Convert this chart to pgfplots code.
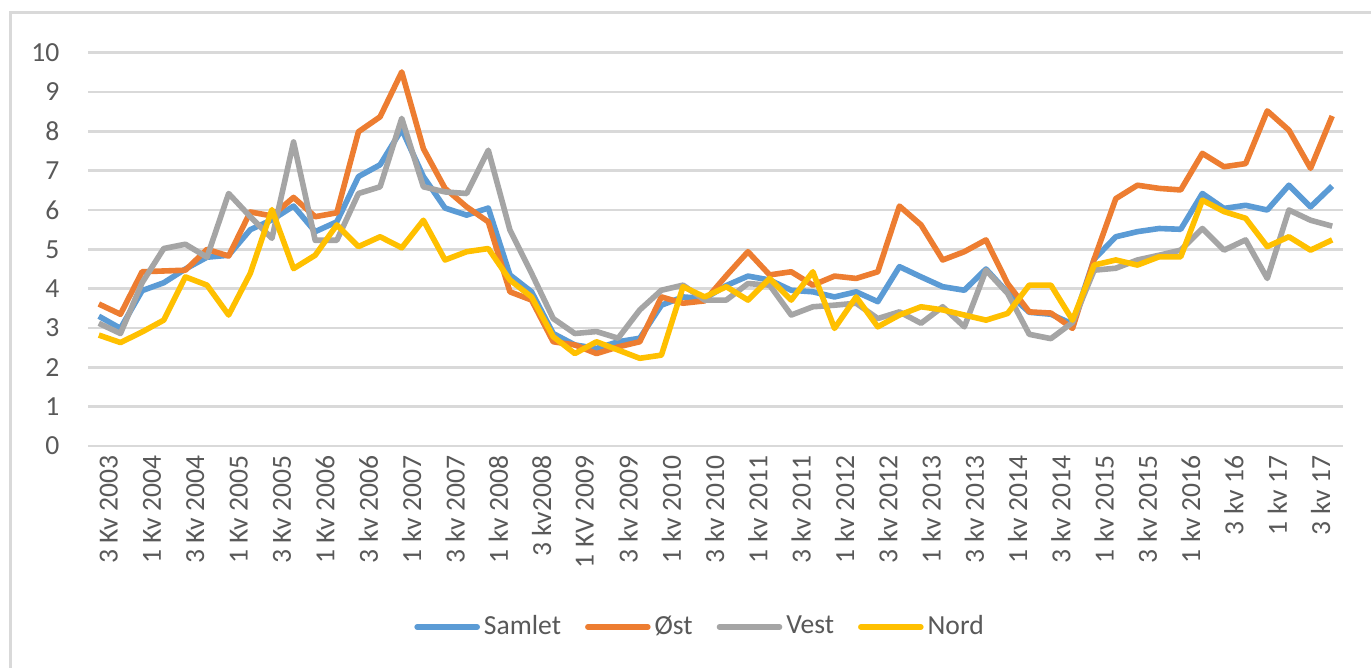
\documentclass[border=0pt]{standalone}
\usepackage{fontspec}
\setmainfont{Carlito}
\usepackage{pgfplots}
\usepackage{pgfplotstable}
\pgfplotsset{compat=1.18}
\definecolor{cblue}{HTML}{5B9BD5}
\definecolor{corange}{HTML}{ED7D31}
\definecolor{cgray}{HTML}{A5A5A5}
\definecolor{cyellow}{HTML}{FFC000}
\definecolor{cgrid}{HTML}{D9D9D9}
\definecolor{ctxt}{HTML}{595959}

\pgfplotstableread{
i samlet ost vest nord
0 3.30 3.61 3.12 2.82
1 2.99 3.35 2.86 2.63
2 3.95 4.43 4.15 2.90
3 4.15 4.45 5.02 3.20
4 4.50 4.47 5.13 4.30
5 4.80 5.00 4.80 4.09
6 4.85 4.83 6.42 3.33
7 5.50 5.95 5.83 4.39
8 5.75 5.85 5.28 6.01
9 6.10 6.32 7.73 4.51
10 5.45 5.83 5.23 4.85
11 5.70 5.93 5.23 5.62
12 6.85 7.99 6.42 5.07
13 7.15 8.37 6.59 5.32
14 8.05 9.51 8.33 5.04
15 6.85 7.56 6.59 5.74
16 6.05 6.55 6.46 4.73
17 5.87 6.08 6.42 4.94
18 6.05 5.70 7.52 5.02
19 4.35 3.92 5.49 4.22
20 3.92 3.71 4.39 3.79
21 2.86 2.65 3.24 2.78
22 2.57 2.57 2.86 2.35
23 2.48 2.35 2.91 2.65
24 2.65 2.52 2.74 2.44
25 2.74 2.65 3.46 2.23
26 3.58 3.79 3.96 2.31
27 3.79 3.63 4.09 4.05
28 3.75 3.69 3.71 3.79
29 4.08 4.33 3.71 4.05
30 4.32 4.94 4.13 3.71
31 4.22 4.35 4.09 4.26
32 3.96 4.43 3.33 3.71
33 3.92 4.09 3.54 4.43
34 3.79 4.32 3.58 2.99
35 3.92 4.26 3.63 3.79
36 3.67 4.43 3.24 3.03
37 4.56 6.10 3.41 3.33
38 4.30 5.62 3.12 3.54
39 4.05 4.73 3.54 3.46
40 3.96 4.94 3.03 3.33
41 4.50 5.24 4.47 3.20
42 3.90 4.13 3.88 3.37
43 3.40 3.41 2.84 4.09
44 3.35 3.38 2.73 4.09
45 3.10 2.99 3.14 3.20
46 4.75 4.75 4.47 4.60
47 5.32 6.29 4.52 4.73
48 5.45 6.63 4.73 4.60
49 5.53 6.55 4.85 4.81
50 5.51 6.51 4.98 4.81
51 6.42 7.44 5.53 6.25
52 6.04 7.10 4.98 5.96
53 6.12 7.18 5.24 5.79
54 6.00 8.52 4.26 5.07
55 6.63 8.03 6.00 5.32
56 6.08 7.06 5.74 4.98
57 6.61 8.39 5.59 5.24
}\datatable

\begin{document}
\fontsize{13.8}{16.5}\selectfont
\begin{tikzpicture}
\useasboundingbox (0,0) rectangle (685.5pt,334pt);
\fill[white] (0,0) rectangle (685.5pt,334pt);
\draw[cgrid, line width=1.5pt] (5pt,0) -- (5pt,327.5pt) -- (685.5pt,327.5pt);
\begin{axis}[
  at={(44pt,111pt)}, anchor=south west,
  scale only axis, width=627.5pt, height=196.65pt,
  xmin=-0.5, xmax=57.5, ymin=0, ymax=10,
  ytick={0,1,...,10},
  xtick={0,2,...,56},
  xticklabels={3 Kv 2003,1 Kv 2004,3 Kv 2004,1 Kv 2005,3 Kv 2005,1 Kv 2006,3 kv 2006,1 kv 2007,3 kv 2007,1 kv 2008,3 kv2008,1 KV 2009,3 kv 2009,1 kv 2010,3 kv 2010,1 kv 2011,3 kv 2011,1 kv 2012,3 kv 2012,1 kv 2013,3 kv 2013,1 kv 2014,3 kv 2014,1 kv 2015,3 kv 2015,1 kv 2016,3 kv 16,1 kv 17,3 kv 17},
  axis line style={draw=none},
  major tick length=0pt,
  tick style={draw=none},
  ymajorgrids,
  grid style={cgrid, line width=1.4pt},
  tick label style={text=ctxt, font=\fontsize{13.8}{16.5}\selectfont},
  xticklabel style={rotate=90, anchor=east, yshift=-5pt},
  yticklabel style={anchor=east, xshift=-9.5pt},
  /pgf/number format/assume math mode=true,
  legend columns=4,
  legend style={at={(0.4885,-0.4602)}, anchor=center, draw=none, fill=none,
    text=ctxt, font=\fontsize{13.8}{16.5}\selectfont,
    /tikz/every even column/.append style={column sep=10pt},
    nodes={inner sep=2pt}},
  legend image code/.code={\draw[#1, line cap=round] (0pt,0pt) -- (30pt,0pt);},
  every axis plot/.append style={line width=2.8pt, line join=round},
]
\addplot[cblue] table[x=i, y=samlet] {\datatable};
\addlegendentry{Samlet}
\addplot[corange] table[x=i, y=ost] {\datatable};
\addlegendentry{Øst}
\addplot[cgray] table[x=i, y=vest] {\datatable};
\addlegendentry{Vest}
\addplot[cyellow] table[x=i, y=nord] {\datatable};
\addlegendentry{Nord}
\end{axis}
\end{tikzpicture}
\end{document}
